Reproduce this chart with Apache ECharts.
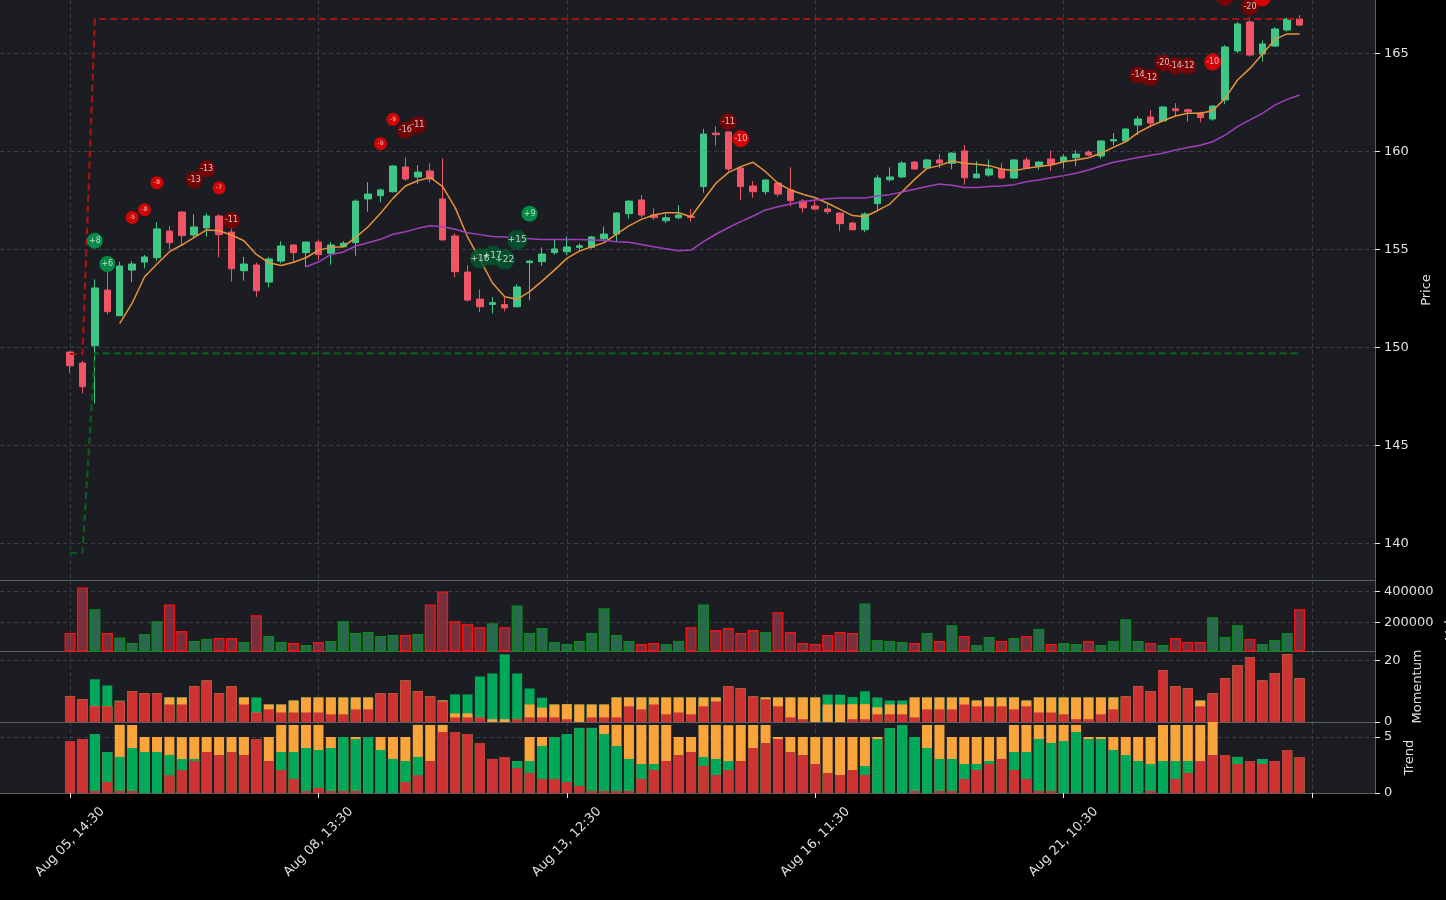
<!DOCTYPE html>
<html><head><meta charset="utf-8">
<script src="https://cdn.jsdelivr.net/npm/echarts@6/dist/echarts.min.js"></script>
<style>html,body{margin:0;padding:0;background:#000;}#c{width:1446px;height:900px;}</style>
</head><body><div id="c"></div>
<script>
// ---------- DATA ----------
const tickIdx = [0, 20, 40, 60, 80, 100];
const tickLabels = ["Aug 05, 14:30", "Aug 08, 13:30", "Aug 13, 12:30", "Aug 16, 11:30", "Aug 21, 10:30", ""];

const opens = [149.76,149.20,150.08,152.92,151.61,153.94,154.35,154.57,155.93,156.90,
155.73,156.09,156.70,155.88,153.91,154.20,153.33,154.40,155.22,154.83,
155.37,154.80,155.13,155.34,157.57,157.74,157.94,159.20,158.69,159.00,
157.57,155.68,153.84,152.46,152.19,152.18,152.07,154.32,154.37,154.83,
154.88,155.10,155.10,155.54,155.78,156.82,157.52,156.75,156.46,156.61,
156.68,158.20,160.93,160.99,159.15,158.23,157.94,158.38,158.03,157.46,
157.21,157.06,156.85,156.34,156.00,157.33,158.55,158.69,159.45,159.15,
159.56,159.39,160.02,158.65,158.79,159.08,158.64,159.56,159.22,159.61,
159.49,159.67,159.96,159.76,160.53,160.53,161.34,161.75,161.55,162.17,
162.12,161.95,161.65,162.62,165.12,166.60,164.96,165.37,166.19,166.75];
const closes = [149.06,147.99,153.03,151.82,154.15,154.25,154.61,156.04,155.34,155.70,
156.14,156.70,155.75,154.01,154.25,152.89,154.51,155.17,154.83,155.37,
154.73,155.22,155.31,157.46,157.82,158.03,159.25,158.59,158.94,158.59,
155.48,153.86,152.41,152.07,152.28,152.01,153.08,154.40,154.76,155.02,
155.12,155.18,155.63,155.78,156.85,157.46,156.75,156.62,156.61,156.75,
156.63,160.88,160.85,159.10,158.20,157.94,158.54,157.82,157.48,157.12,
157.06,156.92,156.31,156.00,156.80,158.64,158.69,159.40,159.10,159.56,
159.40,159.91,158.65,158.84,159.10,158.64,159.56,159.13,159.45,159.35,
159.71,159.86,159.81,160.53,160.60,161.14,161.65,161.44,162.26,162.07,
162.02,161.72,162.31,165.32,166.50,164.91,165.48,166.24,166.75,166.44];
const lows = [148.71,147.65,147.14,151.68,151.60,153.32,154.03,154.40,155.00,155.22,
155.61,155.64,154.59,153.35,153.40,152.58,153.06,154.29,154.37,154.11,
154.45,154.22,155.10,154.68,156.92,157.40,157.90,158.50,158.32,158.40,
155.45,153.57,152.33,151.79,151.73,151.84,152.05,152.41,154.15,154.72,
154.71,154.90,155.03,155.48,155.39,156.56,156.63,156.50,156.33,156.53,
156.41,157.89,160.29,158.96,157.50,157.63,157.79,157.68,157.18,156.87,
157.00,156.79,155.92,155.97,155.87,157.01,158.45,158.65,159.05,159.10,
159.13,159.08,158.30,158.62,158.70,158.60,158.60,159.10,159.06,159.00,
159.13,159.25,159.76,159.62,160.29,160.50,160.83,161.24,161.50,161.77,
161.51,161.48,161.56,162.40,165.00,164.83,164.57,165.34,166.10,166.39];
const highs = [149.80,149.30,153.47,153.86,154.37,154.40,154.71,156.38,156.19,156.95,
156.79,156.84,156.80,156.10,154.62,154.32,154.62,155.41,155.25,155.40,
155.48,155.37,155.42,157.55,158.42,158.10,159.30,159.69,159.29,159.39,
159.64,155.82,154.18,152.96,152.57,152.55,153.22,154.45,155.10,155.48,
155.66,155.31,155.68,156.16,156.90,157.50,157.77,157.09,156.79,157.25,
157.04,161.14,161.28,161.00,159.20,158.49,158.56,158.40,159.18,157.57,
157.52,157.30,156.90,156.40,156.89,158.78,159.18,159.49,159.50,159.62,
159.86,159.95,160.32,159.49,159.59,159.39,159.60,159.69,159.50,160.05,
159.86,160.05,160.05,160.55,160.93,161.16,161.80,162.11,162.30,162.46,
162.19,162.02,162.35,165.42,166.60,166.84,165.66,166.33,166.80,166.95];

const emaFast = [null,null,null,null,151.22,152.25,153.60,154.25,154.88,155.22,
155.61,155.99,155.95,155.73,155.44,154.74,154.32,154.18,154.34,154.57,
154.96,155.10,155.13,155.61,156.15,156.84,157.60,158.23,158.50,158.67,
158.20,157.14,155.64,154.49,153.30,152.58,152.45,152.84,153.38,153.94,
154.54,154.91,155.13,155.34,155.77,156.20,156.53,156.75,156.87,156.87,
156.66,157.52,158.37,158.91,159.22,159.44,158.96,158.37,158.03,157.81,
157.63,157.35,157.04,156.72,156.66,156.97,157.31,157.94,158.57,159.13,
159.27,159.51,159.39,159.34,159.27,159.10,159.01,159.13,159.22,159.30,
159.47,159.56,159.67,159.90,160.20,160.49,160.95,161.29,161.56,161.80,
161.94,161.94,162.07,162.70,163.64,164.23,164.95,165.71,165.99,165.99];
const maSlow = [null,null,null,null,null,null,null,null,null,null,
null,null,null,null,null,null,null,null,null,154.11,
154.35,154.74,154.86,155.17,155.34,155.51,155.77,155.90,156.07,156.20,
156.15,156.02,155.85,155.75,155.66,155.63,155.58,155.54,155.50,155.50,
155.50,155.50,155.48,155.46,155.39,155.36,155.25,155.13,155.03,154.93,
154.96,155.39,155.77,156.10,156.41,156.70,157.01,157.17,157.31,157.43,
157.52,157.58,157.62,157.62,157.62,157.72,157.79,157.92,158.06,158.20,
158.33,158.27,158.16,158.15,158.20,158.23,158.30,158.45,158.54,158.65,
158.76,158.88,159.05,159.25,159.44,159.56,159.69,159.80,159.90,160.07,
160.20,160.31,160.49,160.83,161.26,161.60,161.94,162.36,162.65,162.87];

const resistIdx = [0, 1, 2, 99];
const resistVal = [149.66, 149.66, 166.75, 166.75];
const supportIdx = [0, 1, 2, 99];
const supportVal = [139.52, 139.52, 149.69, 149.69];

const sigIdx   = [2,3,5,6,7,10,11,12,13,25,26,27,28,33,34,35,36,37,53,54,86,87,88,89,90,92,93,95,96];
const sigPrice = [155.44,154.25,156.63,157.02,158.40,158.54,159.11,158.14,156.48,160.39,161.63,161.07,161.34,
                  154.54,154.68,154.49,155.49,156.82,161.51,160.64,163.90,163.76,164.51,164.35,164.35,164.56,167.85,167.36,167.82];
const sigVal   = [8,6,-5,-8,-8,-13,-13,-7,-11,-9,-9,-16,-11,16,17,22,15,9,-11,-10,-14,-12,-20,-14,-12,-10,-11,-20,-10];

const volumes = [132500,422700,283900,132500,104700,69400,126200,208200,315400,145100,
82000,94600,100900,100900,75700,246100,113600,75700,69400,56800,
75700,82000,208200,132500,138800,113600,119900,119900,126200,315400,
397500,208200,189300,170300,195600,170300,309100,132500,164000,75700,
63100,82000,132500,290200,119900,82000,63100,69400,63100,82000,
170300,315400,151400,164000,132500,151400,138800,265000,138800,69400,
63100,119900,138800,132500,321800,88300,82000,75700,69400,132500,
82000,183000,113600,56800,107300,82000,100900,113600,157700,63100,
69400,63100,82000,56800,82000,220800,82000,69400,56800,100900,
75700,75700,233400,107300,183000,94600,63100,88300,132500,283900];

const momRed = [8.3,7.4,5.1,5.1,6.7,10.0,9.3,9.3,5.7,5.7,
11.6,13.5,9.3,11.6,5.7,3.1,4.1,3.1,3.1,3.1,
3.1,2.5,2.5,4.1,4.1,9.3,9.3,13.5,10.0,8.3,
6.7,1.5,1.5,1.5,0,0,0.9,1.5,1.5,1.5,
0.9,0,1.5,1.5,1.5,5.1,4.1,5.7,2.5,3.1,
2.5,5.1,6.7,11.6,10.9,8.3,7.4,5.1,1.5,0.9,
0,0,0,0.9,0.9,2.5,2.5,2.5,1.5,4.1,
4.1,4.1,5.7,5.1,5.1,5.1,4.1,5.1,3.1,3.1,
2.5,0.9,0.9,2.5,4.1,8.3,11.6,10.0,16.8,11.6,
10.9,5.1,9.3,14.2,18.4,21.0,13.5,15.8,22.0,14.2];
const momOrange = [0,0,0,0,0,0,0,0,2.3,2.3,
0,0,0,0,2.3,0,1.6,2.6,3.9,4.9,
4.9,5.5,5.5,3.9,3.9,0,0,0,0,0,
0.3,1.3,1.3,0,0.9,0.9,0,4.2,3.2,4.2,
4.9,5.7,4.2,4.2,6.5,2.9,3.9,2.3,5.5,4.9,
5.5,2.9,1.3,0,0,0,0.6,2.9,6.5,7.1,
8.0,5.7,5.7,4.9,4.9,2.3,3.2,3.2,6.5,3.9,
3.9,3.9,2.3,1.9,2.9,2.9,3.9,1.9,4.9,4.9,
5.5,7.1,7.1,5.5,3.9,0,0,0,0,0,
0,1.9,0,0,0,0,0,0,0,0];
const momGreen = [0,0,8.8,6.8,0.3,0,0,0,0,0,
0,0,0,0,0,4.9,0,0,0,0,
0,0,0,0,0,0,0,0,0,0,
0,6.2,6.2,13.3,14.9,21.1,14.9,5.2,3.2,0,
0,0,0,0,0,0,0,0,0,0,
0,0,0,0,0,0,0,0,0,0,
0,3.2,3.2,2.3,4.2,3.2,1.3,1.3,0,0,
0,0,0,0,0,0,0,0,0,0,
0,0,0,0,0,0,0,0,0,0,
0,0,0,0,0,0,0,0,0,0];

const trendRed = [4.64,4.82,0.18,0.98,0.18,0.18,0,0,1.58,2.05,
2.86,3.66,3.39,3.66,3.39,4.82,2.86,2.05,1.25,0.18,
0.45,0.18,0.18,0.18,0,0,0,0.98,1.58,2.86,
5.45,5.45,5.27,4.46,3.04,3.21,2.23,1.79,1.25,1.25,
0.98,0.63,0.18,0.18,0.18,0.18,1.25,2.05,2.86,3.39,
3.66,2.41,1.61,2.05,2.86,4.02,4.46,4.82,3.66,3.39,
2.59,1.79,1.61,2.05,1.61,0,0,0,0.18,0,
0.18,0.18,1.25,2.05,2.59,3.04,2.05,1.25,0.18,0.18,
0,0,0,0,0,0,0,0.18,0,1.25,
1.79,2.86,3.39,3.39,2.59,2.86,2.59,2.86,3.84,3.21];
const trendGreen = [0,0,5.09,2.68,3.04,3.84,3.66,3.66,1.82,0.98,
0.18,0,0,0,0,0,0,1.61,2.41,3.84,
3.39,3.84,4.82,4.64,5.0,3.84,3.04,1.88,1.64,0,
0,0,0,0,0,0,0.63,1.07,2.95,3.75,
4.29,5.18,5.63,5.09,4.02,2.86,1.34,0.54,0,0,
0,0.8,1.43,0.8,0,0,0,0,0,0,
0,0,0,0,0.8,4.82,5.8,6.07,4.82,4.02,
2.86,2.86,1.34,0.54,0.27,0,1.61,2.41,4.64,4.29,
4.64,5.45,4.82,4.82,3.84,3.39,2.86,2.41,2.86,1.61,
1.07,0,0,0,0.63,0,0.45,0,0,0];
const trendOrange = [0,0,0,0,2.86,2.05,1.34,1.34,1.61,1.96,
1.96,1.34,1.61,1.34,1.61,0,2.14,2.41,2.41,2.05,
2.23,0.98,0,0.18,0,1.16,1.96,2.14,2.86,3.21,
0.63,0,0,0,0,0,0,2.14,0.8,0,
0,0,0,0.8,1.88,3.04,3.48,3.48,3.21,1.61,
1.34,2.86,3.04,3.21,3.21,2.05,1.61,0.18,1.34,1.61,
2.41,3.21,3.39,2.95,2.59,0.18,0,0,0,2.05,
3.04,1.96,2.41,2.41,2.14,1.96,2.41,2.41,1.25,1.61,
1.43,0.63,0.18,0.18,1.16,1.61,2.14,2.41,3.21,3.21,
3.21,3.21,3.39,0,0,0,0,0,0,0];

// ---------- STYLE ----------
const UP = '#3ec887', DOWN = '#ef5467';
const BG = '#1b1d22', SPINE = '#5b5f66', GRIDC = '#3a3d44', TXT = '#e0e0e0';
const FONT = 'DejaVu Sans';
const XMIN = -5.64, XMAX = 105.07;
const splitStyle = {show: true, lineStyle: {color: GRIDC, width: 1, type: [4, 3]}};

function mkX(gi, show) {
  return {
    type: 'value', gridIndex: gi, min: XMIN, max: XMAX,
    axisLine: {show: true, onZero: false, lineStyle: {color: SPINE, width: 1}},
    axisTick: {show: show, customValues: tickIdx, length: 5, lineStyle: {color: '#e8e8e8'}},
    axisLabel: {show: show, customValues: tickIdx, rotate: 45, align: 'center', verticalAlign: 'middle',
      margin: 49, color: TXT, fontSize: 13, fontFamily: FONT,
      formatter: v => { const k = tickIdx.indexOf(Math.round(v)); return k >= 0 ? tickLabels[k] : ''; }},
    splitLine: splitStyle
  };
}
function mkY(gi, min, max, ticks, name, gap) {
  return {
    type: 'value', gridIndex: gi, position: 'right', min: min, max: max,
    name: name, nameLocation: 'middle', nameRotate: 90, nameGap: gap,
    nameTextStyle: {color: TXT, fontSize: 13, fontFamily: FONT},
    axisLine: {show: true, onZero: false, lineStyle: {color: SPINE, width: 1}},
    axisTick: {show: true, customValues: ticks, length: 5, lineStyle: {color: '#e8e8e8'}},
    axisLabel: {show: true, customValues: ticks, color: TXT, fontSize: 13, margin: 9, fontFamily: FONT,
      formatter: v => String(v)},
    splitLine: splitStyle
  };
}

const grids = [
  {left: 0, right: 71, top: 0, height: 580},
  {left: 0, right: 71, top: 580, height: 71},
  {left: 0, right: 71, top: 651, height: 71},
  {left: 0, right: 71, top: 722, height: 71}
].map(g => Object.assign(g, {show: true, backgroundColor: BG, borderWidth: 0,
  containLabel: false, outerBoundsMode: 'none'}));

const candleData = opens.map((o, i) => [i, o, closes[i], lows[i], highs[i]]);
const pairs = arr => arr.map((v, i) => [i, v]).filter(p => p[1] !== null);

const volData = volumes.map((v, i) => {
  const up = closes[i] >= opens[i];
  return {value: [i, v], itemStyle: {
    color: up ? 'rgba(50,150,105,0.62)' : 'rgba(175,60,78,0.62)',
    borderColor: up ? '#0a8a1a' : '#ff1010', borderWidth: 1.3}};
});

const sigData = sigIdx.map((x, k) => {
  const v = sigVal[k], a = Math.abs(v), pos = v > 0;
  const size = pos ? (a >= 10 ? 20 : 16) : (a >= 10 ? 17 : 13);
  const color = pos ? (a >= 10 ? '#005a2e' : '#00a651') : (a >= 11 ? '#8b0000' : '#ff0000');
  return {value: [x, sigPrice[k], v], symbolSize: size, itemStyle: {color: color},
    label: {fontSize: Math.round(size * 0.47)}};
});

const M_RED = '#cd3333', M_GREEN = '#00a85a', M_ORANGE = '#f9a53c';
// Stacked segments drawn as overlapping bars: outermost cumulative layer first, inner layers on top.
function layered(gi, layers, colors) {
  const out = [];
  const n = layers[0].length;
  for (let L = layers.length; L >= 1; L--) {
    const cum = [];
    for (let i = 0; i < n; i++) {
      let s = 0;
      for (let j = 0; j < L; j++) s += layers[j][i];
      cum.push([i, s]);
    }
    out.push({type: 'bar', xAxisIndex: gi, yAxisIndex: gi, barWidth: 10, barGap: '-100%',
      data: cum, itemStyle: {color: colors[L - 1]}, silent: true, z: 2 + (layers.length - L)});
  }
  return out;
}

const option = {
  backgroundColor: '#000',
  animation: false,
  grid: grids,
  xAxis: [mkX(0, false), mkX(1, false), mkX(2, false), mkX(3, true)],
  yAxis: [
    mkY(0, 138.13, 167.72, [140, 145, 150, 155, 160, 165], 'Price', 41),
    mkY(1, 18000, 471000, [200000, 400000], 'Volume', 57),
    mkY(2, 0, 23.1, [0, 20], 'Momentum', 33),
    mkY(3, 0, 6.34, [0, 5], 'Trend', 23)
  ],
  series: [
    {type: 'candlestick', xAxisIndex: 0, yAxisIndex: 0, barWidth: 7, encode: {x: 0, y: [1, 2, 3, 4]},
      data: candleData, z: 2,
      itemStyle: {color: UP, color0: DOWN, borderColor: UP, borderColor0: DOWN, borderWidth: 1}},
    {type: 'line', xAxisIndex: 0, yAxisIndex: 0, data: pairs(emaFast), symbol: 'none', z: 3,
      lineStyle: {color: '#e8923a', width: 1.5}},
    {type: 'line', xAxisIndex: 0, yAxisIndex: 0, data: pairs(maSlow), symbol: 'none', z: 3,
      lineStyle: {color: '#a23fbf', width: 1.5}},
    {type: 'line', xAxisIndex: 0, yAxisIndex: 0, data: resistIdx.map((x, k) => [x, resistVal[k]]),
      symbol: 'none', z: 4, lineStyle: {color: '#a81212', width: 2.2, type: [7, 4]}},
    {type: 'line', xAxisIndex: 0, yAxisIndex: 0, data: supportIdx.map((x, k) => [x, supportVal[k]]),
      symbol: 'none', z: 4, lineStyle: {color: '#0c5c1c', width: 2.2, type: [7, 4]}},
    {type: 'scatter', xAxisIndex: 0, yAxisIndex: 0, data: sigData, clip: false, z: 6,
      label: {show: true, position: 'inside', color: '#f0f0f0', fontFamily: FONT,
        formatter: p => (p.value[2] > 0 ? '+' : '') + p.value[2]}},
    {type: 'bar', xAxisIndex: 1, yAxisIndex: 1, barWidth: 11, data: volData},
    ...layered(2, [momRed, momOrange, momGreen], [M_RED, M_ORANGE, M_GREEN]),
    ...layered(3, [trendRed, trendGreen, trendOrange], [M_RED, M_GREEN, M_ORANGE])
  ]
};

const chart = echarts.init(document.getElementById('c'), null, {renderer: 'canvas'});
chart.setOption(option);
</script>
</body></html>
